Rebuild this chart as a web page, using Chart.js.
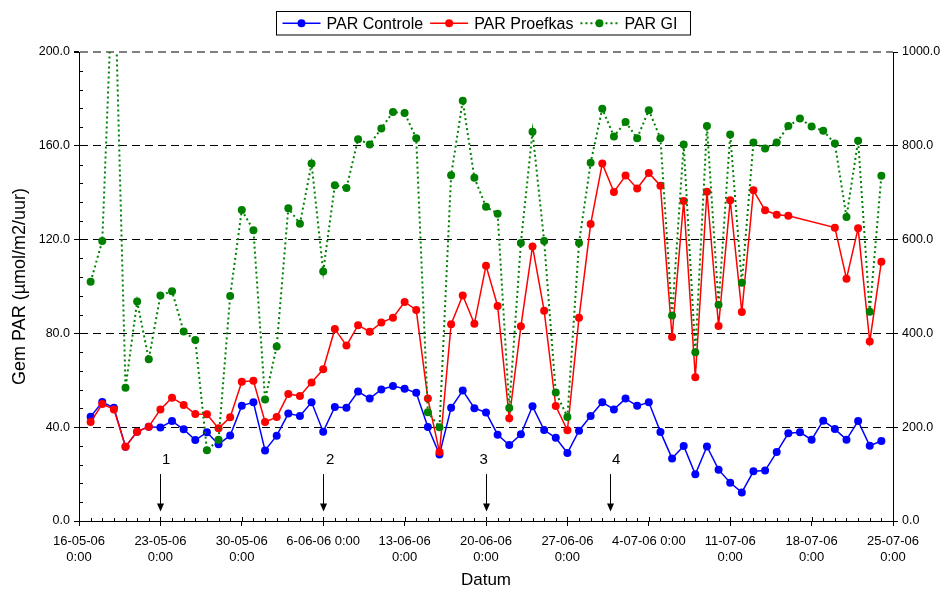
<!DOCTYPE html>
<html>
<head>
<meta charset="utf-8">
<script src="https://cdn.jsdelivr.net/npm/chart.js@4.4.0/dist/chart.umd.min.js"></script>
<style>
html, body { margin: 0; padding: 0; background: #fff; }
</style>
</head>
<body>
<canvas id="chart" width="945" height="592"></canvas>
<script>
// days since 16-05-06 0:00
const days = [1, 2, 3, 4, 5, 6, 7, 8, 9, 10, 11, 12, 13, 14, 15, 16, 17, 18, 19, 20,
    21, 22, 23, 24, 25, 26, 27, 28, 29, 30, 31, 32, 33, 34, 35, 36, 37, 38, 39, 40,
    41, 42, 43, 44, 45, 46, 47, 48, 49, 50, 51, 52, 53, 54, 55, 56, 57, 58, 59, 60,
    61, 62, 63, 64, 65, 66, 67, 68, 69]

const parControle = [44.5, 50.7, 48.3, 31.7, 38.1, 40.2, 39.9, 42.6, 39.1, 34.5,
    37.8, 32.7, 36.5, 49.2, 50.6, 30.1, 36.4, 45.8, 44.8, 50.6,
    38.1, 48.6, 48.3, 55.2, 52.2, 56.1, 57.6, 56.4, 54.7, 40.1,
    28.4, 48.3, 55.6, 48.1, 46.3, 36.8, 32.4, 37.0, 48.9, 38.8,
    35.5, 29.0, 38.5, 44.8, 50.6, 47.6, 52.2, 49.1, 50.6, 38.0,
    26.7, 32.0, 19.9, 31.8, 21.9, 16.3, 12.2, 21.2, 21.5, 29.4,
    37.4, 37.8, 34.7, 42.8, 39.2, 34.7, 42.6, 32.1, 34.1]

const parProefkas = [42.2, 49.9, 47.6, 31.7, 38.1, 40.2, 47.6, 52.6, 49.5, 45.6,
    45.5, 39.5, 44.2, 59.4, 59.8, 42.2, 44.3, 54.2, 53.3, 59.1,
    64.7, 81.9, 74.8, 83.5, 80.7, 84.6, 86.7, 93.4, 90.0, 52.2,
    29.4, 83.9, 96.2, 84.1, 108.9, 91.7, 43.8, 83.0, 117.1, 89.7,
    49.0, 38.7, 86.7, 126.6, 152.4, 140.3, 147.3, 141.8, 148.4, 143.0,
    78.5, 136.5, 61.3, 140.4, 83.2, 136.8, 89.1, 141.0, 132.5, 130.6,
    130.2, null, null, null, 125.1, 103.3, 124.8, 76.5, 110.6]

const parGI = [510, 597, 1230, 284, 468, 345, 481, 490, 404, 386,
    151, 173, 480, 663, 620, 259, 372, 667, 634, 762,
    532, 716, 710, 814, 803, 837, 872, 870, 816, 232,
    200, 737, 896, 732, 670, 655, 241, 593, 830, 597,
    274, 222, 593, 764, 879, 820, 851, 816, 876, 816,
    438, 803, 360, 842, 461, 824, 508, 807, 794, 807,
    842, 858, 841, 832, 805, 648, 811, 446, 736]

const tickDays = [0, 7, 14, 21, 28, 35, 42, 49, 56, 63, 70]
const tickLabels = [["16-05-06", "0:00"], ["23-05-06", "0:00"], ["30-05-06", "0:00"], "6-06-06 0:00",
    ["13-06-06", "0:00"], ["20-06-06", "0:00"], ["27-06-06", "0:00"], "4-07-06 0:00",
    ["11-07-06", "0:00"], ["18-07-06", "0:00"], ["25-07-06", "0:00"]]
const leftTicks = [0, 40, 80, 120, 160, 200]
const rightTicks = [0, 200, 400, 600, 800, 1000]

const arrowDays = [7, 21, 35, 45.7]
const arrowLabelDays = [7.5, 21.6, 34.8, 46.2]
const arrowLabels = ["1", "2", "3", "4"]

const fontFamily = "'Liberation Sans', Arial, sans-serif"

function points(values) {
    return days.map((d, i) => ({ x: d, y: values[i] }))
}

const extrasPlugin = {
    id: "extras",
    afterDraw(chart) {
        const ctx = chart.ctx
        const x = chart.scales.x
        const y = chart.scales.y
        const area = chart.chartArea

        ctx.save()
        ctx.strokeStyle = "#000"
        ctx.lineWidth = 1

        // minor ticks
        ctx.beginPath()
        for (let d = 0; d <= 70; d++) {
            const px = Math.round(x.getPixelForValue(d)) + 0.5
            ctx.moveTo(px, area.bottom)
            ctx.lineTo(px, area.bottom - (d % 7 === 0 ? 4 : 3))
        }
        for (let v = 8; v < 200; v += 8) {
            if (v % 40 === 0) continue
            const py = Math.round(y.getPixelForValue(v)) + 0.5
            ctx.moveTo(area.left, py)
            ctx.lineTo(area.left + 4, py)
        }
        ctx.stroke()

        // arrows
        ctx.fillStyle = "#000"
        ctx.font = "15px " + fontFamily
        ctx.textAlign = "center"
        ctx.textBaseline = "middle"
        arrowDays.forEach((d, i) => {
            const px = Math.round(x.getPixelForValue(d)) + 0.5
            const top = y.getPixelForValue(20)
            const tip = y.getPixelForValue(4)
            ctx.beginPath()
            ctx.moveTo(px, top)
            ctx.lineTo(px, tip - 6)
            ctx.stroke()
            ctx.beginPath()
            ctx.moveTo(px - 3.5, tip - 8)
            ctx.lineTo(px + 3.5, tip - 8)
            ctx.lineTo(px, tip)
            ctx.closePath()
            ctx.fill()
            ctx.fillText(arrowLabels[i], x.getPixelForValue(arrowLabelDays[i]), y.getPixelForValue(26))
        })

        // legend box
        const items = chart.data.datasets
        ctx.font = "16px " + fontFamily
        const lineLen = 38
        let total = 12
        items.forEach(ds => { total += lineLen + 6 + ctx.measureText(ds.label).width + 7 })
        const boxLeft = Math.round(483 - total / 2) + 0.5
        const boxTop = 11.5
        const boxH = 23.5
        ctx.fillStyle = "#fff"
        ctx.fillRect(boxLeft, boxTop, total, boxH)
        ctx.strokeRect(boxLeft, boxTop, total, boxH)
        let cx = boxLeft + 6
        const cy = boxTop + boxH / 2
        ctx.textAlign = "left"
        items.forEach(ds => {
            ctx.strokeStyle = ds.borderColor
            ctx.lineWidth = ds.borderWidth
            ctx.setLineDash(ds.borderDash || [])
            ctx.beginPath()
            ctx.moveTo(cx, cy)
            ctx.lineTo(cx + lineLen, cy)
            ctx.stroke()
            ctx.setLineDash([])
            ctx.fillStyle = ds.borderColor
            ctx.beginPath()
            ctx.arc(cx + lineLen / 2, cy, 4, 0, Math.PI * 2)
            ctx.fill()
            cx += lineLen + 6
            ctx.fillStyle = "#000"
            ctx.fillText(ds.label, cx, cy + 1)
            cx += ctx.measureText(ds.label).width + 7
        })
        ctx.restore()
    }
}

new Chart("chart", {
    type: "line",
    data: {
        datasets: [{
            label: "PAR Controle",
            data: points(parControle),
            yAxisID: "y",
            borderColor: "#0000FF",
            backgroundColor: "#0000FF",
            borderWidth: 1.5,
            pointRadius: 4,
            pointBorderWidth: 0,
            order: 3,
        }, {
            label: "PAR Proefkas",
            data: points(parProefkas),
            yAxisID: "y",
            borderColor: "#FF0000",
            backgroundColor: "#FF0000",
            borderWidth: 1.5,
            pointRadius: 4,
            pointBorderWidth: 0,
            spanGaps: true,
            order: 2,
        }, {
            label: "PAR GI",
            data: points(parGI),
            yAxisID: "y2",
            borderColor: "#008000",
            backgroundColor: "#008000",
            borderWidth: 2,
            borderDash: [2, 3],
            pointRadius: 4,
            pointBorderWidth: 0,
            clip: 0,
            order: 1,
        }]
    },
    options: {
        responsive: false,
        animation: false,
        devicePixelRatio: 1,
        layout: { padding: { top: 52, left: 0, right: 0, bottom: 0 } },
        plugins: {
            legend: { display: false },
            tooltip: { enabled: false },
        },
        scales: {
            x: {
                type: "linear",
                min: 0,
                max: 70,
                afterBuildTicks: s => { s.ticks = tickDays.map(v => ({ value: v })) },
                afterFit: s => { s.height = 71 },
                grid: { drawOnChartArea: false, tickLength: 5, tickColor: "#000" },
                border: { color: "#000" },
                ticks: {
                    padding: 7,
                    color: "#000",
                    maxRotation: 0,
                    autoSkip: false,
                    font: { size: 13, family: fontFamily, lineHeight: 1.23 },
                    callback: v => tickLabels[tickDays.indexOf(v)],
                },
                title: {
                    display: true,
                    text: "Datum",
                    color: "#000",
                    font: { size: 17, family: fontFamily },
                    padding: { top: 0, bottom: 1 },
                },
            },
            y: {
                position: "left",
                min: 0,
                max: 200,
                afterBuildTicks: s => { s.ticks = leftTicks.map(v => ({ value: v })) },
                afterFit: s => { s.width = 79 },
                grid: {
                    color: c => c.tick.value === 0 ? "rgba(0,0,0,0)" : (c.tick.value === 200 ? "#808080" : "#000"),
                    lineWidth: c => c.tick.value === 200 ? 2 : 1,
                    tickLength: 5,
                    tickColor: "#000",
                },
                border: { color: "#000", dash: [8, 5] },
                ticks: {
                    padding: 4,
                    color: "#000",
                    font: { size: 12.5, family: fontFamily },
                    callback: v => v.toFixed(1),
                },
                title: {
                    display: true,
                    text: "Gem PAR (µmol/m2/uur)",
                    color: "#000",
                    font: { size: 18, family: fontFamily },
                    padding: { top: 9, bottom: 0 },
                },
            },
            y2: {
                position: "right",
                min: 0,
                max: 1000,
                afterBuildTicks: s => { s.ticks = rightTicks.map(v => ({ value: v })) },
                afterFit: s => { s.width = 52 },
                grid: { drawOnChartArea: false, tickLength: 5, tickColor: "#000" },
                border: { color: "#000" },
                ticks: {
                    padding: 4,
                    color: "#000",
                    font: { size: 12.5, family: fontFamily },
                    callback: v => v.toFixed(1),
                },
            },
        },
    },
    plugins: [extrasPlugin],
})
</script>
</body>
</html>
